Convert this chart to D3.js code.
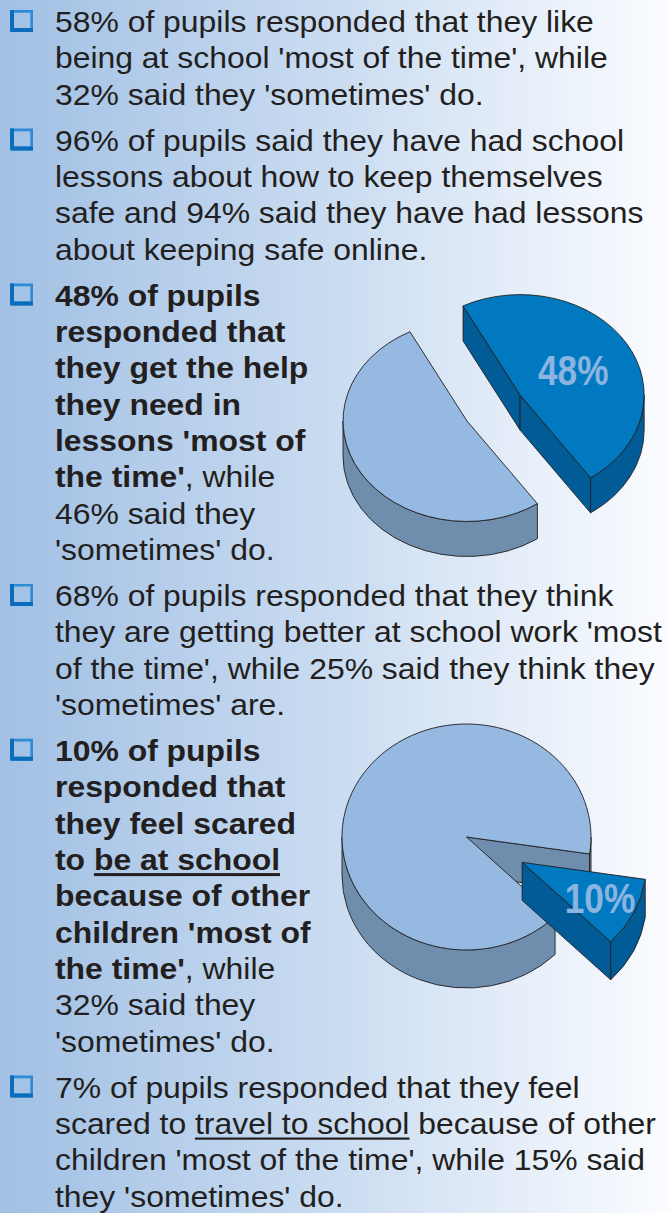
<!DOCTYPE html>
<html>
<head>
<meta charset="utf-8">
<script src="https://cdn.jsdelivr.net/npm/d3@7"></script>
<style>
  html, body { margin: 0; padding: 0; }
  svg { display: block; }
  text { white-space: pre; }
</style>
</head>
<body>
<svg id="chart" width="670" height="1213"></svg>
<script>
// ----------- Text blocks (** = bold, __ = underline) ------------
const block1 = [
  "58% of pupils responded that they like",
  "being at school 'most of the time', while",
  "32% said they 'sometimes' do."
];
const block2 = [
  "96% of pupils said they have had school",
  "lessons about how to keep themselves",
  "safe and 94% said they have had lessons",
  "about keeping safe online."
];
const block3 = [
  "**48% of pupils**",
  "**responded that**",
  "**they get the help**",
  "**they need in**",
  "**lessons 'most of**",
  "**the time'**, while",
  "46% said they",
  "'sometimes' do."
];
const block4 = [
  "68% of pupils responded that they think",
  "they are getting better at school work 'most",
  "of the time', while 25% said they think they",
  "'sometimes' are."
];
const block5 = [
  "**10% of pupils**",
  "**responded that**",
  "**they feel scared**",
  "**to __be at school__**",
  "**because of other**",
  "**children 'most of**",
  "**the time'**, while",
  "32% said they",
  "'sometimes' do."
];
const block6 = [
  "7% of pupils responded that they feel",
  "scared to __travel to school__ because of other",
  "children 'most of the time', while 15% said",
  "they 'sometimes' do."
];
const blocks = [block1, block2, block3, block4, block5, block6];

// ----------- Pie chart values ------------
const pieLabels = ["48%", "10%"];
const pieHighlight = [48, 10];   // exploded slice
const pieRest = [52, 90];        // remainder
const pieStartDeg = [332.6, 98.65]; // first slice angle, clockwise from 12 o'clock

// ----------- Layout ------------
const W = 670, H = 1213;
const textX = 55, firstBaseline = 32, lineH = 36.35, blockGap = 45.9;
const fontSize = 29, stretchX = 1.1;
const pieGeom = [
  { cx: 467,   cy: 421, rx: 124,   ry: 100.5, depth: 35, explode: 0.5, labelR: 0.5 },
  { cx: 466.5, cy: 837, rx: 124.5, ry: 113,   depth: 38, explode: 0.5, labelR: 0.7 }
];
const lightCols = { top: "#95b9e1", side: "#6f8dac" };
const darkCols  = { top: "#0079c1", side: "#005b96" };

const svg = d3.select("#chart");

// background gradient
const grad = svg.append("defs").append("linearGradient")
  .attr("id", "bg").attr("x1", 0).attr("x2", 1).attr("y1", 0).attr("y2", 0);
grad.append("stop").attr("offset", 0).attr("stop-color", "#a1c0e4");
grad.append("stop").attr("offset", 0.5).attr("stop-color", "#cadcf1");
grad.append("stop").attr("offset", 1).attr("stop-color", "#fbfcff");
svg.append("rect").attr("width", W).attr("height", H).attr("fill", "url(#bg)");

// ----------- Parse a line into styled segments ------------
function parseLine(str) {
  const segs = [];
  let bold = false, ul = false;
  str.split(/(\*\*|__)/).forEach(tok => {
    if (tok === "**") bold = !bold;
    else if (tok === "__") ul = !ul;
    else if (tok.length) segs.push({ text: tok, bold, ul });
  });
  return segs;
}

// ----------- Text and bullets ------------
const textG = svg.append("g").attr("class", "text");
let y = firstBaseline;
blocks.forEach(block => {
  drawBullet(textG, y);
  block.forEach(line => {
    const lineG = textG.append("g")
      .attr("transform", `translate(${textX},${y}) scale(${stretchX},1)`);
    const text = lineG.append("text")
      .attr("font-family", "'Liberation Sans', Arial, sans-serif")
      .attr("font-size", fontSize)
      .attr("fill", "#231f20");
    text.selectAll("tspan")
      .data(parseLine(line))
      .join("tspan")
      .attr("font-weight", d => d.bold ? 700 : 400)
      .text(d => d.text)
      .each(function (d) {
        if (!d.ul) return;
        const x0 = this.getStartPositionOfChar(0).x;
        const w = this.getComputedTextLength();
        lineG.append("rect")
          .attr("x", x0).attr("y", d.bold ? 3.2 : 3.6)
          .attr("width", w).attr("height", d.bold ? 3 : 2.2)
          .attr("fill", "#231f20");
      });
    y += lineH;
  });
  y += blockGap - lineH;
});

function drawBullet(g, base) {
  const x = 10, top = base - 22, s = 23, h = 22;
  // frame
  g.append("path")
    .attr("fill", "#2f8bd8")
    .attr("fill-rule", "evenodd")
    .attr("d", `M${x},${top}h${s}v${h}h${-s}Z M${x + 4},${top + 2.7}h${s - 6.7}v${h - 6.7}h${-(s - 6.7)}Z`);
  // darker left / bottom shadow
  g.append("path")
    .attr("fill", "#0b6cbc")
    .attr("d", `M${x},${top}h4v${h - 4}h${s - 4}v4h${-(s - 2)}q-2,0 -2,-2Z`);
}

// ----------- 3D pies ------------
function drawSlice(g, cx, cy, rx, ry, depth, a0, a1, col) {
  const P = (a, dz) => [cx + rx * Math.cos(a), cy + ry * Math.sin(a) + dz];
  const f = p => p[0].toFixed(2) + "," + p[1].toFixed(2);
  const sides = [];
  // cut faces
  if (Math.cos(a0) < 0)
    sides.push(`M${f([cx, cy])}L${f(P(a0, 0))}L${f(P(a0, depth))}L${f([cx, cy + depth])}Z`);
  if (Math.cos(a1) > 0)
    sides.push(`M${f([cx, cy])}L${f(P(a1, 0))}L${f(P(a1, depth))}L${f([cx, cy + depth])}Z`);
  // outer wall, only front half visible
  for (let k = 0; k < 3; k++) {
    const s = Math.max(a0, 2 * Math.PI * k), e = Math.min(a1, 2 * Math.PI * k + Math.PI);
    if (e > s)
      sides.push(`M${f(P(s, 0))}A${rx},${ry} 0 0 1 ${f(P(e, 0))}L${f(P(e, depth))}A${rx},${ry} 0 0 0 ${f(P(s, depth))}Z`);
  }
  g.selectAll(null).data(sides).join("path")
    .attr("d", d => d)
    .attr("fill", col.side);
  g.append("path")
    .attr("d", `M${f([cx, cy])}L${f(P(a0, 0))}A${rx},${ry} 0 ${a1 - a0 > Math.PI ? 1 : 0} 1 ${f(P(a1, 0))}Z`)
    .attr("fill", col.top);
}

const pie = d3.pie().sort(null).value(d => d.value);

pieGeom.forEach((geo, i) => {
  const data = [
    { key: "hi", value: pieHighlight[i] },
    { key: "rest", value: pieRest[i] }
  ];
  const start = pieStartDeg[i] * Math.PI / 180;
  const arcs = pie.startAngle(start).endAngle(start + 2 * Math.PI)(data);
  const g = svg.append("g").attr("class", "pie")
    .attr("stroke", "#231f20").attr("stroke-width", 0.9).attr("stroke-linejoin", "round");

  [arcs[1], arcs[0]].forEach(a => {
    const hi = a.data.key === "hi";
    let a0 = a.startAngle - Math.PI / 2, a1 = a.endAngle - Math.PI / 2;
    const shift = Math.floor(a0 / (2 * Math.PI)) * 2 * Math.PI;
    a0 -= shift; a1 -= shift;
    const mid = (a0 + a1) / 2;
    const cx = geo.cx + (hi ? geo.explode * geo.rx * Math.cos(mid) : 0);
    const cy = geo.cy + (hi ? geo.explode * geo.ry * Math.sin(mid) : 0);
    const sg = g.append("g");
    drawSlice(sg, cx, cy, geo.rx, geo.ry, geo.depth, a0, a1, hi ? darkCols : lightCols);
    if (hi) {
      const lx = cx + geo.labelR * geo.rx * Math.cos(mid);
      const ly = cy + geo.labelR * geo.ry * Math.sin(mid);
      svg.append("text")
        .attr("transform", `translate(${lx},${ly}) scale(0.82,1)`)
        .attr("text-anchor", "middle")
        .attr("dy", "0.36em")
        .attr("font-family", "'Liberation Sans', Arial, sans-serif")
        .attr("font-weight", 700)
        .attr("font-size", 43)
        .attr("fill", "#8cb4e0")
        .text(pieLabels[i]);
    }
  });
});
</script>
</body>
</html>
